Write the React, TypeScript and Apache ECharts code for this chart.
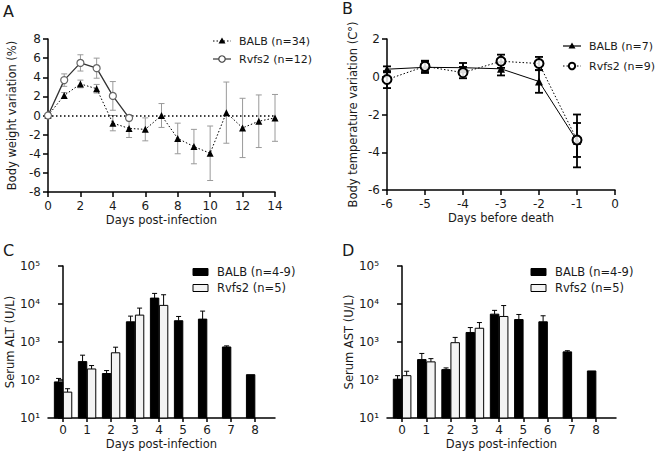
import React, { useEffect, useRef } from 'react';
import * as echarts from 'echarts';

// ---------- DATA ----------
// Panel A: body weight variation (%)
const daysA = [0, 1, 2, 3, 4, 5, 6, 7, 8, 9, 10, 11, 12, 13, 14];
const balbWeight = [0, 2.1, 3.3, 2.8, -0.8, -1.35, -1.45, 0, -2.4, -3.25, -3.95, 0.3, -1.3, -0.6, -0.25];
const balbWeightErr = [0.1, 0.3, 0.4, 0.45, 0.8, 0.95, 1.2, 1.25, 1.6, 1.8, 2.85, 3.2, 3.1, 2.75, 2.45];
const daysRvfsA = [0, 1, 2, 3, 4, 5];
const rvfsWeight = [0, 3.7, 5.5, 4.95, 2.05, -0.25];
const rvfsWeightErr = [0.1, 0.65, 0.85, 1.05, 1.5, 0.3];

// Panel B: body temperature variation (C°)
const daysB = [-6, -5, -4, -3, -2, -1];
const balbTemp = [0.4, 0.5, 0.48, 0.42, -0.25, -3.4];
const balbTempErr = [0.15, 0.3, 0.25, 0.35, 0.6, 1.4];
const rvfsTemp = [-0.15, 0.55, 0.22, 0.82, 0.7, -3.35];
const rvfsTempErr = [0.45, 0.3, 0.3, 0.35, 0.35, 0.9];

// Panels C/D: serum ALT / AST (U/L)
const daysCD = [0, 1, 2, 3, 4, 5, 6, 7, 8];
const daysRvfsCD = [0, 1, 2, 3, 4];
const altBalb = [89, 305, 148, 3400, 14300, 3630, 4000, 740, 138];
const altBalbErr = [21, 145, 29, 1400, 4700, 1070, 2500, 50, 0];
const altRvfs = [48, 195, 520, 5100, 9200];
const altRvfsErr = [11, 45, 210, 2700, 8300];
const astBalb = [105, 345, 188, 1780, 5400, 3900, 3400, 550, 173];
const astBalbErr = [25, 155, 20, 620, 1400, 1400, 1500, 40, 0];
const astRvfs = [130, 300, 960, 2300, 4700];
const astRvfsErr = [40, 65, 360, 950, 4400];
const logTicks = [10, 100, 1000, 10000, 100000];
const supers: Record<string, string> = { '1': '¹', '2': '²', '3': '³', '4': '⁴', '5': '⁵' };

const FONT = '"DejaVu Sans", Verdana, sans-serif';
const TXT = '#1a1a1a';

function errSeries(xi: number, xs: number[], ys: number[], errs: number[], color: string, lw: number, cap: number, z: number, offset = 0, upOnly = false) {
  return {
    type: 'custom',
    xAxisIndex: xi,
    yAxisIndex: xi,
    z,
    silent: true,
    clip: false,
    data: xs.map((x, i) => [x + offset, upOnly ? ys[i] : ys[i] - errs[i], ys[i] + errs[i]]).filter((d) => d[2] !== d[1]),
    encode: { x: 0, y: [1, 2] },
    renderItem: (params: any, api: any) => {
      const x = api.value(0);
      const lo = api.coord([x, api.value(1)]);
      const hi = api.coord([x, api.value(2)]);
      const st = { stroke: color, lineWidth: lw };
      const ch: any[] = [
        { type: 'line', shape: { x1: lo[0], y1: lo[1], x2: hi[0], y2: hi[1] }, style: st },
        { type: 'line', shape: { x1: hi[0] - cap, y1: hi[1], x2: hi[0] + cap, y2: hi[1] }, style: st },
      ];
      if (!upOnly) ch.push({ type: 'line', shape: { x1: lo[0] - cap, y1: lo[1], x2: lo[0] + cap, y2: lo[1] }, style: st });
      return { type: 'group', children: ch };
    },
  };
}

function barSeries(xi: number, xs: number[], ys: number[], offset: number, fill: string, z: number) {
  const w = 0.35;
  return {
    type: 'custom',
    xAxisIndex: xi,
    yAxisIndex: xi,
    z,
    silent: true,
    data: xs.map((x, i) => [x, ys[i]]),
    encode: { x: 0, y: 1 },
    renderItem: (params: any, api: any) => {
      const x = api.value(0);
      const p0 = api.coord([x + offset - w / 2, 10]);
      const p1 = api.coord([x + offset + w / 2, api.value(1)]);
      return {
        type: 'rect',
        shape: { x: p0[0], y: p1[1], width: p1[0] - p0[0], height: p0[1] - p1[1] },
        style: { fill, stroke: '#000', lineWidth: 1 },
      };
    },
  };
}

const axisLineStyle = { lineStyle: { color: '#000', width: 1.5 } };
const tickStyle = { show: true, length: 5, lineStyle: { color: '#000', width: 1.5 } };
const labelStyle = { color: TXT, fontSize: 12, fontFamily: FONT };
const nameStyle = { color: TXT, fontSize: 11.5, fontFamily: FONT };

function txt(x: number, y: number, text: string, size: number) {
  return {
    type: 'text', x, y,
    style: { text, fill: TXT, fontSize: size, fontFamily: FONT, verticalAlign: 'middle', align: 'left' },
  };
}

function legendLine(x: number, y: number, dashed: boolean, sym: 'tri' | 'circ', color: string, lw: number, symStroke: number, text: string) {
  const children: any[] = [
    { type: 'line', shape: { x1: x, y1: y, x2: x + 18, y2: y }, style: { stroke: color, lineWidth: lw, lineDash: dashed ? [1.5, 2] : null } },
  ];
  if (sym === 'tri') {
    children.push({ type: 'polygon', shape: { points: [[x + 9, y - 3.5], [x + 12.5, y + 2.5], [x + 5.5, y + 2.5]] }, style: { fill: '#000' } });
  } else {
    children.push({ type: 'circle', shape: { cx: x + 9, cy: y, r: 3.2 }, style: { fill: '#fff', stroke: color, lineWidth: symStroke } });
  }
  children.push(txt(x + 26, y, text, 11));
  return { type: 'group', children };
}

function legendRect(x: number, y: number, fill: string, text: string) {
  return {
    type: 'group',
    children: [
      { type: 'rect', shape: { x, y: y - 3.5, width: 15, height: 7 }, style: { fill, stroke: '#000', lineWidth: 1 } },
      txt(x + 24, y, text, 11.5),
    ],
  };
}

export default function App() {
  const ref = useRef<HTMLDivElement>(null);
  useEffect(() => {
    document.body.style.margin = '0';
    const chart = echarts.init(ref.current!, null, { renderer: 'svg' });
    const grids = [
      { left: 48, top: 39, width: 227, height: 153 },
      { left: 387, top: 39, width: 228, height: 151 },
      { left: 48, top: 266, width: 227, height: 152 },
      { left: 387, top: 266, width: 229, height: 152 },
    ].map((g) => ({ ...g, outerBoundsMode: 'none', containLabel: false }));

    const logAxis = (gi: number, name: string, gap: number) => ({
      type: 'log',
      gridIndex: gi,
      min: 10,
      max: 100000,
      logBase: 10,
      name,
      nameLocation: 'middle',
      nameGap: gap,
      nameTextStyle: nameStyle,
      axisLine: { show: true, ...axisLineStyle },
      axisTick: { ...tickStyle, customValues: logTicks },
      minorTick: { show: false },
      splitLine: { show: false },
      axisLabel: {
        ...labelStyle,
        margin: 8,
        customValues: logTicks,
        formatter: (v: number) => '10' + supers[String(Math.round(Math.log10(v)))],
      },
    });

    const catX = (gi: number, min: number, max: number) => ({
      type: 'value',
      gridIndex: gi,
      min,
      max,
      name: 'Days post-infection',
      nameLocation: 'middle',
      nameGap: 20,
      nameTextStyle: nameStyle,
      axisLine: { show: true, ...axisLineStyle },
      axisTick: { ...tickStyle, length: 4, customValues: daysCD },
      splitLine: { show: false },
      axisLabel: { ...labelStyle, margin: 6, customValues: daysCD },
    });

    const option: any = {
      animation: false,
      backgroundColor: '#fff',
      textStyle: { fontFamily: FONT },
      grid: grids,
      xAxis: [
        {
          type: 'value', gridIndex: 0, min: 0, max: 14, interval: 2,
          name: 'Days post-infection', nameLocation: 'middle', nameGap: 22, nameTextStyle: nameStyle,
          axisLine: { show: true, onZero: false, ...axisLineStyle }, axisTick: tickStyle, splitLine: { show: false },
          axisLabel: { ...labelStyle, margin: 8 },
        },
        {
          type: 'value', gridIndex: 1, min: -6, max: 0, interval: 1,
          name: 'Days before death', nameLocation: 'middle', nameGap: 22, nameTextStyle: nameStyle,
          axisLine: { show: true, onZero: false, ...axisLineStyle }, axisTick: tickStyle, splitLine: { show: false },
          axisLabel: { ...labelStyle, margin: 8 },
        },
        catX(2, -0.625, 8.83),
        catX(3, -0.62, 8.82),
      ],
      yAxis: [
        {
          type: 'value', gridIndex: 0, min: -8, max: 8, interval: 2,
          name: 'Body weight variation (%)', nameLocation: 'middle', nameGap: 30, nameTextStyle: nameStyle,
          axisLine: { show: true, onZero: false, ...axisLineStyle }, axisTick: tickStyle, splitLine: { show: false },
          axisLabel: { ...labelStyle, margin: 7 },
        },
        {
          type: 'value', gridIndex: 1, min: -6, max: 2, interval: 2,
          name: 'Body temperature variation (C°)', nameLocation: 'middle', nameGap: 28, nameTextStyle: nameStyle,
          axisLine: { show: true, onZero: false, ...axisLineStyle }, axisTick: tickStyle, splitLine: { show: false },
          axisLabel: { ...labelStyle, margin: 7 },
        },
        logAxis(2, 'Serum ALT (U/L)', 32),
        logAxis(3, 'Serum AST (U/L)', 32),
      ],
      series: [
        // Panel A
        errSeries(0, daysA, balbWeight, balbWeightErr, '#9a9a9a', 1, 3, 2),
        errSeries(0, daysRvfsA, rvfsWeight, rvfsWeightErr, '#9a9a9a', 1, 3, 2),
        {
          type: 'line', name: 'BALB (n=34)', xAxisIndex: 0, yAxisIndex: 0, z: 4,
          data: daysA.map((d, i) => [d, balbWeight[i]]),
          lineStyle: { color: '#000', width: 1, type: [1.5, 2] },
          symbol: 'triangle', symbolSize: 7, itemStyle: { color: '#000' },
          markLine: {
            silent: true, symbol: 'none', label: { show: false },
            lineStyle: { color: '#000', width: 1.5, type: [1.5, 2.5] },
            data: [{ yAxis: 0 }],
          },
        },
        {
          type: 'line', name: 'Rvfs2 (n=12)', xAxisIndex: 0, yAxisIndex: 0, z: 5,
          data: daysRvfsA.map((d, i) => [d, rvfsWeight[i]]),
          lineStyle: { color: '#333', width: 1.3 },
          symbol: 'circle', symbolSize: 7, showAllSymbol: true,
          itemStyle: { color: '#fff', borderColor: '#666', borderWidth: 1.2 },
        },
        // Panel B
        errSeries(1, daysB, balbTemp, balbTempErr, '#000', 1.8, 4, 2),
        errSeries(1, daysB, rvfsTemp, rvfsTempErr, '#000', 1.8, 4, 2),
        {
          type: 'line', name: 'BALB (n=7)', xAxisIndex: 1, yAxisIndex: 1, z: 4,
          data: daysB.map((d, i) => [d, balbTemp[i]]),
          lineStyle: { color: '#000', width: 1 },
          symbol: 'triangle', symbolSize: 8, itemStyle: { color: '#000' },
        },
        {
          type: 'line', name: 'Rvfs2 (n=9)', xAxisIndex: 1, yAxisIndex: 1, z: 5,
          data: daysB.map((d, i) => [d, rvfsTemp[i]]),
          lineStyle: { color: '#000', width: 1, type: [1.5, 2] },
          symbol: 'circle', symbolSize: 9,
          itemStyle: { color: 'rgba(255,255,255,0.85)', borderColor: '#000', borderWidth: 2 },
        },
        // Panel C
        barSeries(2, daysCD, altBalb, -0.185, '#000', 3),
        barSeries(2, daysRvfsCD, altRvfs, 0.19, '#f3f3f3', 3),
        errSeries(2, daysCD, altBalb, altBalbErr, '#000', 1, 2.5, 2, -0.185, true),
        errSeries(2, daysRvfsCD, altRvfs, altRvfsErr, '#000', 1, 2.5, 2, 0.19, true),
        // Panel D
        barSeries(3, daysCD, astBalb, -0.185, '#000', 3),
        barSeries(3, daysRvfsCD, astRvfs, 0.19, '#f3f3f3', 3),
        errSeries(3, daysCD, astBalb, astBalbErr, '#000', 1, 2.5, 2, -0.185, true),
        errSeries(3, daysRvfsCD, astRvfs, astRvfsErr, '#000', 1, 2.5, 2, 0.19, true),
      ],
      graphic: [
        txt(3, 11, 'A', 16),
        txt(342, 8, 'B', 16),
        txt(3, 250, 'C', 16),
        txt(342, 250, 'D', 16),
        legendLine(213, 41, true, 'tri', '#000', 1, 1, 'BALB (n=34)'),
        legendLine(213, 59, false, 'circ', '#444', 1.3, 1.2, 'Rvfs2 (n=12)'),
        legendLine(563, 46, false, 'tri', '#000', 1.2, 1, 'BALB (n=7)'),
        legendLine(563, 66, true, 'circ', '#000', 1, 2, 'Rvfs2 (n=9)'),
        legendRect(193, 272, '#000', 'BALB (n=4-9)'),
        legendRect(193, 288, '#f3f3f3', 'Rvfs2 (n=5)'),
        legendRect(531, 272, '#000', 'BALB (n=4-9)'),
        legendRect(531, 288, '#f3f3f3', 'Rvfs2 (n=5)'),
      ],
    };
    chart.setOption(option);
    return () => chart.dispose();
  }, []);
  return <div ref={ref} style={{ width: 658, height: 451 }} />;
}
